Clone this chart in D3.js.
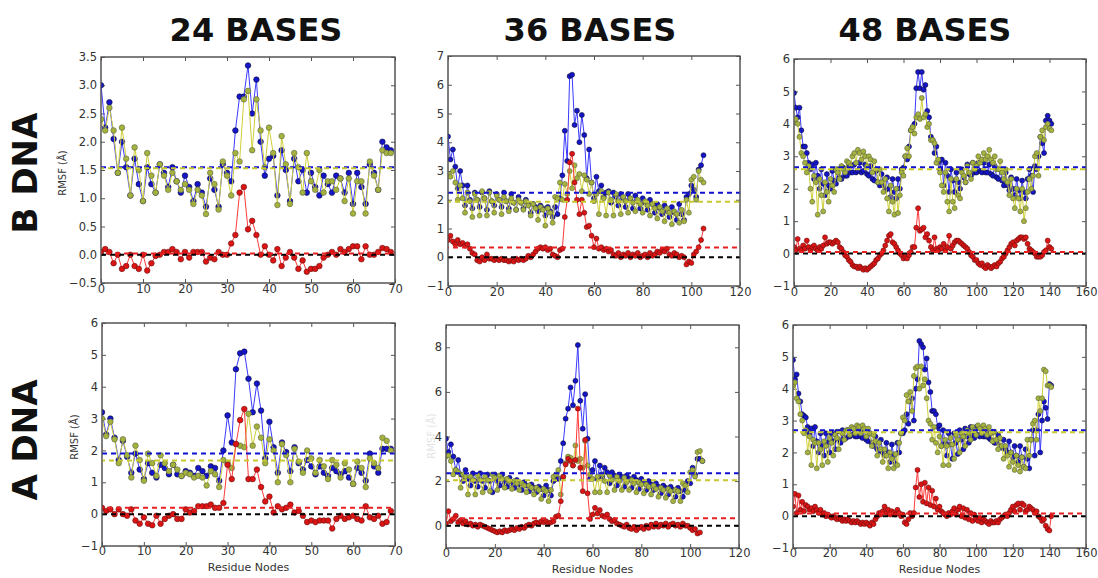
<!DOCTYPE html>
<html>
<head>
<meta charset="utf-8">
<script src="https://cdn.jsdelivr.net/npm/d3@7"></script>
<style>
  body { margin: 0; background: #fff; }
  svg { font-family: "DejaVu Sans", sans-serif; }
</style>
</head>
<body>
<div id="chart"></div>
<script>
// column / row labels
var colTitles = ["24 BASES", "36 BASES", "48 BASES"];
var rowTitles = ["B DNA", "A DNA"];

// ---- B DNA, 24 bases ----
var b24Blue = [3.0,2.25,2.7,2.05,1.45,2.0,1.55,1.05,1.7,1.25,0.95,1.55,1.25,1.1,1.6,1.45,1.2,1.55,1.3,1.1,
  1.4,1.2,0.95,1.25,1.1,0.85,1.35,1.15,0.85,1.6,1.45,1.3,2.2,2.8,2.8,3.35,2.5,3.1,2.0,1.4,
  1.7,1.75,1.05,1.85,1.5,0.95,1.7,1.3,1.5,1.1,1.45,1.2,1.05,1.4,1.25,1.1,1.4,1.35,1.1,1.45,
  0.9,1.45,1.2,0.9,1.6,1.45,1.15,2.0,1.9,1.85];
var b24Yellow = [2.4,2.2,2.6,2.2,1.45,2.25,1.7,1.05,1.9,1.5,0.95,1.8,1.4,1.1,1.6,1.4,1.15,1.45,1.3,1.15,
  1.25,1.15,0.9,1.15,1.05,0.72,1.45,1.25,0.8,1.65,1.4,1.05,1.8,1.65,2.75,2.9,1.85,2.75,2.2,1.55,
  2.25,1.8,0.88,2.1,1.6,0.9,1.8,1.55,1.1,1.8,1.3,1.15,1.5,1.1,1.3,1.3,1.15,1.35,0.95,1.35,
  0.73,1.3,1.3,0.73,1.65,1.4,1.15,1.85,1.8,1.8];
var b24Red = [0.05,0.1,0.05,-0.15,0.0,-0.25,-0.2,0.0,-0.2,-0.25,0.0,-0.28,-0.15,-0.02,0.0,0.05,0.05,0.1,0.05,-0.08,
  0.05,-0.05,0.05,0.05,0.05,-0.12,-0.05,-0.08,0.05,0.0,0.0,0.2,0.35,1.1,1.2,0.45,0.6,0.35,0.0,0.15,
  0.0,-0.1,0.1,-0.2,-0.05,0.05,-0.05,-0.25,-0.1,-0.3,-0.25,-0.25,-0.2,-0.05,0.0,0.05,0.0,0.1,0.05,0.1,
  0.15,0.15,-0.08,0.15,0.0,0.0,0.05,0.12,0.1,0.05];
var b24Means = [1.55, 1.53, 0.02];

// ---- B DNA, 36 bases ----
var b36Blue = [4.2,3.4,3.75,3.15,2.4,3.0,2.5,1.8,2.5,2.0,
  1.7,2.25,2.0,1.75,2.25,2.05,1.65,2.3,1.95,1.8,
  2.2,2.0,1.75,2.25,1.95,1.7,2.2,1.9,1.65,2.1,
  1.9,1.7,2.0,1.85,1.55,1.85,1.75,1.6,1.8,1.7,
  1.45,1.75,1.6,1.4,1.75,1.5,2.05,2.85,4.4,3.35,
  6.3,6.35,4.6,5.1,4.0,4.95,4.25,2.75,3.75,2.6,
  2.05,2.8,2.3,2.5,2.1,2.25,2.3,1.9,2.25,2.1,
  1.8,2.2,2.05,1.75,2.2,2.0,1.7,2.15,1.95,1.7,
  2.05,1.9,1.65,2.0,1.85,1.55,1.85,1.7,1.5,1.8,
  1.6,1.4,1.75,1.55,1.3,1.85,1.5,1.3,2.1,2.2,
  2.5,2.35,2.1,3.05,3.2,3.55];
var b36Yellow = [2.9,2.8,3.0,2.6,2.0,2.5,2.05,1.55,2.25,1.95,
  1.4,2.2,2.0,1.45,2.3,2.05,1.45,2.25,1.95,1.55,
  2.15,2.0,1.5,2.1,1.95,1.6,2.05,1.9,1.65,2.0,
  1.9,1.65,1.95,1.8,1.45,1.85,1.7,1.3,1.75,1.65,
  1.1,1.7,1.55,1.2,2.1,2.05,2.6,2.0,2.55,2.2,
  3.0,2.4,3.2,2.75,2.9,2.3,2.85,2.7,2.2,2.6,
  1.95,2.2,1.5,2.3,2.05,1.45,2.25,2.0,1.45,2.2,
  1.95,1.5,2.1,1.95,1.55,2.05,1.9,1.6,2.0,1.85,
  1.55,1.95,1.8,1.45,1.85,1.7,1.35,1.75,1.6,1.25,
  1.7,1.55,1.15,1.6,1.5,1.2,1.65,1.25,2.0,1.55,
  2.7,2.8,2.0,3.0,2.7,2.6];
var b36Red = [0.6,0.75,0.55,0.45,0.6,0.45,0.5,0.4,0.45,0.3,
  0.15,0.1,-0.1,-0.15,0.0,-0.1,0.1,-0.05,-0.05,-0.1,
  -0.05,-0.1,-0.05,-0.1,-0.1,-0.15,-0.1,-0.15,-0.05,-0.1,
  -0.05,-0.1,-0.05,0.05,0.0,0.1,0.2,0.3,0.35,0.3,
  0.35,0.25,0.3,0.1,0.05,0.0,0.25,0.3,1.4,2.0,
  3.3,3.6,2.6,2.0,1.5,2.0,1.55,1.05,1.1,0.75,
  0.35,0.65,0.3,0.35,0.25,0.3,0.2,0.25,0.1,0.05,
  0.15,0.0,0.1,0.05,0.15,0.0,0.1,0.05,0.15,0.0,
  0.05,0.1,0.0,0.15,0.05,0.1,0.2,0.15,0.25,0.2,
  0.3,0.1,0.05,0.15,0.1,0.0,0.05,0.0,-0.25,-0.15,
  -0.2,0.1,0.2,0.35,0.6,1.0];
var b36Means = [2.24, 1.93, 0.34];

// ---- B DNA, 48 bases ----
var b48Blue = [4.95,4.5,4.2,4.5,3.8,3.3,3.3,3.1,2.8,2.6,
  2.75,2.3,2.8,2.4,2.0,2.6,2.15,1.8,2.45,2.1,
  2.0,2.55,2.25,2.15,2.6,2.35,2.3,2.65,2.4,2.4,
  2.7,2.5,2.5,2.75,2.5,2.55,2.8,2.5,2.55,2.75,
  2.45,2.4,2.7,2.3,2.25,2.55,2.2,2.1,2.45,2.1,
  1.95,2.35,2.0,1.75,2.3,1.9,1.7,2.3,2.0,2.6,
  2.65,3.0,2.9,3.3,3.8,3.9,4.0,5.1,5.6,5.1,
  5.6,5.05,5.2,4.4,4.2,3.6,3.5,3.1,3.3,2.8,
  2.6,2.9,2.1,2.8,2.4,1.9,2.6,2.25,1.9,2.5,
  2.2,2.0,2.6,2.35,2.2,2.75,2.45,2.4,2.8,2.5,
  2.5,2.8,2.55,2.5,2.8,2.5,2.5,2.75,2.45,2.4,
  2.7,2.35,2.3,2.6,2.25,2.1,2.5,2.1,1.95,2.35,
  2.0,1.8,2.3,1.95,1.7,2.25,1.9,1.7,2.3,2.6,
  2.4,1.9,2.7,2.6,3.0,3.6,3.4,3.1,4.1,4.25,
  4.1,4.0];
var b48Yellow = [4.1,4.15,4.0,3.6,3.1,3.0,2.8,2.5,2.7,2.0,
  1.6,2.4,2.2,1.2,2.3,1.8,1.3,2.2,1.9,1.6,
  2.3,2.1,1.9,2.6,2.5,2.3,2.7,2.6,2.5,2.85,
  2.8,2.7,3.0,3.1,2.8,3.2,3.1,2.9,3.15,3.0,
  2.7,3.0,2.9,2.5,2.85,2.6,2.2,2.6,2.2,1.9,
  2.3,1.7,1.3,2.1,1.6,1.2,2.0,1.25,1.8,2.5,
  2.4,3.0,3.25,3.0,3.8,3.9,3.7,4.2,4.3,4.15,
  4.8,4.2,4.3,3.9,4.0,3.5,3.5,3.4,2.8,2.9,
  2.5,2.1,1.9,2.5,1.6,1.3,2.3,1.6,1.4,2.3,
  1.8,1.7,2.5,2.4,2.2,2.7,2.5,2.3,2.8,2.6,
  2.7,3.0,2.8,2.9,3.1,2.9,3.0,3.2,2.9,2.8,
  3.0,2.6,2.6,2.85,2.5,2.3,2.6,2.2,1.8,2.3,
  1.7,1.4,2.0,1.7,1.3,2.0,1.0,1.4,1.9,2.3,
  2.0,2.4,3.0,3.1,2.4,3.6,3.8,3.5,3.9,4.0,
  3.85,3.8];
var b48Red = [0.2,0.1,0.45,0.15,0.1,0.25,0.15,0.4,0.2,0.1,
  0.2,0.25,0.15,0.1,0.2,0.15,0.25,0.5,0.3,0.35,
  0.35,0.3,0.35,0.4,0.35,0.2,0.15,0.05,-0.05,-0.1,
  -0.2,-0.25,-0.35,-0.4,-0.4,-0.45,-0.4,-0.45,-0.5,-0.45,
  -0.5,-0.45,-0.4,-0.35,-0.3,-0.2,-0.15,-0.05,0.0,0.1,
  0.25,0.4,0.55,0.6,0.35,0.3,0.2,0.1,0.0,-0.05,
  -0.15,-0.1,-0.15,-0.05,0.05,0.2,0.2,0.8,1.4,0.7,
  0.75,0.8,0.5,0.6,0.4,0.2,0.1,0.5,0.15,0.1,
  0.2,0.15,0.3,0.1,0.2,0.55,0.15,0.25,0.35,0.4,
  0.4,0.35,0.3,0.25,0.2,0.15,0.05,-0.05,-0.1,-0.2,
  -0.2,-0.3,-0.35,-0.3,-0.4,-0.45,-0.35,-0.4,-0.45,-0.4,
  -0.35,-0.4,-0.3,-0.25,-0.15,-0.1,0.0,0.1,0.2,0.3,
  0.35,0.25,0.4,0.45,0.5,0.5,0.45,0.5,0.3,0.15,
  0.1,0.05,0.0,-0.1,-0.1,-0.1,-0.05,0.05,0.1,0.4,
  0.2,0.15];
var b48Means = [2.66, 2.6, 0.05];

// ---- A DNA, 24 bases ----
var a24Blue = [3.2,2.5,3.0,2.4,1.7,2.3,1.8,1.3,1.9,1.4,1.1,1.6,1.3,1.15,1.55,1.45,1.25,1.55,1.25,1.2,
  1.35,1.3,1.2,1.45,1.35,1.2,1.5,1.45,1.05,2.0,3.1,2.25,4.55,5.05,5.1,4.25,3.2,4.1,3.25,1.75,
  2.9,2.1,1.3,2.25,1.95,1.35,2.1,1.6,1.4,1.7,1.5,1.25,1.5,1.3,1.2,1.45,1.35,1.25,1.35,1.15,
  0.95,1.45,1.3,1.05,1.9,1.5,1.3,2.05,2.05,2.05];
var a24Yellow = [3.0,2.45,2.9,2.35,1.6,2.35,1.85,1.15,2.15,1.7,1.05,1.9,1.6,1.2,1.85,1.6,1.35,1.55,1.4,1.2,
  1.3,1.25,1.15,1.2,1.15,0.9,1.35,1.25,0.85,1.7,1.6,1.45,2.2,2.15,2.1,3.15,2.15,2.75,2.4,1.6,
  2.35,2.0,1.0,2.2,1.85,1.0,2.05,1.65,1.3,2.0,1.75,1.3,1.7,1.5,1.1,1.7,1.55,1.15,1.6,1.4,
  0.95,1.65,1.45,0.85,1.75,1.6,1.45,2.4,2.3,2.0];
var a24Red = [0.2,0.1,0.15,0.0,0.15,0.0,-0.05,0.15,-0.2,-0.3,-0.1,-0.3,-0.35,-0.05,-0.3,-0.15,-0.05,0.0,-0.15,-0.15,
  0.15,0.05,0.1,0.25,0.25,0.25,0.3,0.2,0.2,0.35,1.55,1.1,2.2,2.95,3.3,1.1,1.1,1.4,0.85,0.4,
  0.55,0.05,0.25,0.15,0.2,0.3,0.05,0.1,-0.05,-0.25,-0.2,-0.25,-0.2,-0.2,-0.2,-0.45,-0.15,-0.05,-0.15,-0.1,
  -0.05,-0.15,-0.2,0.25,-0.1,-0.15,-0.05,-0.3,-0.25,0.1];
var a24Means = [1.9, 1.68, 0.2];

// ---- A DNA, 36 bases ----
var a36Blue = [3.9,3.3,3.65,3.1,2.5,2.95,2.3,2.0,2.5,2.1,
  1.8,2.35,2.0,1.75,2.35,2.0,1.7,2.3,2.0,1.5,
  2.3,2.0,1.8,2.3,1.95,1.75,2.15,1.9,1.7,2.05,
  1.85,1.6,1.95,1.8,1.55,1.85,1.7,1.5,1.75,1.65,
  1.35,1.8,1.6,1.35,2.0,2.1,2.1,2.9,3.7,4.8,
  5.25,6.2,5.4,6.5,8.1,5.6,4.35,5.9,3.9,2.1,
  2.5,2.9,2.1,2.7,2.2,2.6,2.4,1.9,2.4,2.25,
  1.8,2.3,2.2,1.75,2.25,2.1,1.7,2.2,2.05,1.65,
  2.1,1.95,1.6,2.0,1.85,1.6,1.9,1.75,1.45,1.8,
  1.7,1.4,1.75,1.6,1.3,1.7,1.55,1.3,1.6,2.0,
  1.9,2.6,2.3,3.0,3.0,2.9];
var a36Yellow = [3.1,3.15,2.9,2.3,2.5,2.4,1.7,2.3,2.2,1.4,
  2.2,2.05,1.4,2.25,2.05,1.5,2.2,2.05,1.55,2.3,
  2.15,1.6,2.25,2.1,1.7,2.1,2.0,1.65,2.0,1.9,
  1.6,1.9,1.8,1.5,1.8,1.7,1.4,1.7,1.6,1.2,
  1.65,1.55,1.1,1.6,2.2,2.3,2.5,1.4,2.2,2.8,
  3.1,3.05,2.7,3.6,2.9,3.0,2.6,3.8,2.7,2.3,
  2.1,1.5,2.2,1.5,2.3,2.0,1.5,2.25,2.05,1.6,
  2.2,2.0,1.6,2.15,1.95,1.6,2.05,1.9,1.5,1.95,
  1.85,1.45,1.85,1.75,1.4,1.8,1.65,1.3,1.7,1.6,
  1.25,1.65,1.55,1.1,1.6,1.55,1.1,1.9,1.8,1.5,
  2.4,2.5,2.2,3.3,3.35,2.9];
var a36Red = [0.1,0.65,0.2,0.3,0.45,0.15,0.25,0.1,0.2,0.05,
  0.1,0.0,0.05,-0.05,0.05,0.0,-0.05,-0.1,-0.15,-0.2,
  -0.25,-0.3,-0.25,-0.3,-0.2,-0.25,-0.2,-0.15,-0.2,-0.1,
  -0.15,-0.05,-0.1,0.0,0.05,0.0,0.1,0.15,0.1,0.2,
  0.15,0.2,0.1,0.15,0.2,0.4,0.45,1.1,2.2,2.75,
  3.0,2.9,2.7,2.95,5.25,2.6,1.55,3.85,1.45,0.3,
  0.5,0.8,0.55,0.7,0.45,0.4,0.5,0.3,0.2,0.25,
  0.1,0.05,0.0,-0.05,0.05,-0.1,-0.15,-0.05,-0.2,-0.1,
  -0.05,-0.15,0.0,-0.1,0.05,-0.05,0.1,-0.05,0.05,0.0,
  0.1,-0.05,0.05,0.1,0.0,0.05,-0.05,0.1,0.0,0.0,
  -0.1,-0.2,-0.15,-0.35,-0.3];
var a36Means = [2.35, 2.04, 0.33];

// ---- A DNA, 48 bases ----
var a48Blue = [4.9,4.3,4.45,3.85,3.6,3.2,3.15,3.1,2.8,2.6,
  2.75,2.2,2.8,2.35,2.0,2.6,2.2,1.9,2.6,2.3,
  2.0,2.6,2.35,2.1,2.65,2.4,2.3,2.7,2.45,2.45,
  2.7,2.5,2.55,2.75,2.5,2.5,2.75,2.5,2.45,2.7,
  2.4,2.35,2.6,2.3,2.2,2.5,2.1,2.05,2.4,2.0,
  1.9,2.3,2.0,1.7,2.25,1.9,1.65,2.3,2.0,2.6,
  2.6,2.7,3.2,2.9,3.6,3.7,3.0,4.0,4.3,5.5,
  5.4,5.3,4.6,4.95,4.2,3.9,3.3,3.3,3.2,2.8,
  2.85,2.2,2.7,2.3,1.9,2.6,2.25,1.8,2.6,2.3,
  1.95,2.7,2.4,2.1,2.75,2.5,2.3,2.8,2.55,2.45,
  2.8,2.55,2.5,2.75,2.5,2.5,2.7,2.45,2.4,2.65,
  2.3,2.3,2.55,2.2,2.15,2.4,2.1,2.0,2.35,2.0,
  1.85,2.2,1.9,1.7,2.2,1.85,1.55,2.1,1.8,1.5,
  2.4,2.7,1.9,2.7,3.2,2.0,3.0,3.6,3.4,3.05,
  4.15,4.1];
var a48Yellow = [4.1,4.2,3.7,3.6,3.2,3.0,2.6,2.7,2.0,2.5,
  1.6,2.4,2.3,1.5,2.3,2.1,1.6,2.35,2.2,1.7,
  2.45,2.3,1.9,2.55,2.45,2.1,2.65,2.6,2.4,2.7,
  2.7,2.55,2.8,2.75,2.6,2.85,2.8,2.6,2.85,2.75,
  2.5,2.75,2.6,2.2,2.55,2.35,1.9,2.3,2.1,1.7,
  2.1,1.9,1.5,2.0,1.8,1.5,1.95,1.6,2.3,2.6,
  3.1,3.0,3.8,3.6,3.9,3.3,4.4,4.65,4.7,4.0,
  4.7,4.1,4.3,3.7,3.0,2.9,2.4,2.8,2.3,2.0,
  2.5,2.2,1.6,2.4,2.2,1.6,2.45,2.25,1.8,2.55,
  2.4,2.0,2.6,2.5,2.2,2.7,2.6,2.4,2.8,2.7,
  2.55,2.85,2.75,2.6,2.85,2.75,2.55,2.8,2.6,2.35,
  2.65,2.4,2.1,2.45,2.2,1.8,2.2,1.9,1.55,2.0,
  1.7,1.45,1.9,1.6,1.4,1.85,1.55,1.5,2.4,1.9,
  2.4,2.9,3.0,2.4,3.7,3.3,3.7,4.6,4.55,4.1,
  4.1,4.05];
var a48Red = [0.3,0.7,0.1,0.65,0.2,0.45,0.15,0.35,0.3,0.2,
  0.25,0.15,0.3,0.2,0.1,0.2,0.05,0.1,0.0,0.05,
  0.0,-0.05,0.0,-0.05,-0.1,-0.05,-0.1,-0.15,-0.1,-0.15,
  -0.1,-0.15,-0.2,-0.15,-0.2,-0.15,-0.2,-0.25,-0.2,-0.25,
  -0.2,-0.25,-0.3,-0.2,-0.25,-0.1,0.0,0.1,0.05,0.15,
  0.3,0.1,0.2,0.05,0.15,0.1,0.05,0.2,0.1,0.0,
  0.05,-0.2,-0.25,-0.1,0.1,0.0,0.1,0.9,1.45,0.6,
  1.0,0.45,1.05,0.4,0.9,0.35,0.8,0.3,0.55,0.2,
  0.3,0.15,0.1,0.05,0.0,0.1,0.05,0.15,0.25,0.05,
  0.2,0.3,0.0,0.25,-0.05,0.2,-0.1,0.1,-0.15,0.05,
  -0.1,-0.15,-0.05,-0.2,-0.1,-0.15,-0.2,-0.25,-0.15,-0.2,
  -0.2,-0.15,-0.2,-0.1,-0.05,0.0,0.05,0.0,0.1,0.2,
  0.3,0.15,0.35,0.4,0.2,0.4,0.35,0.15,0.2,0.3,
  0.25,0.2,0.1,0.15,0.0,-0.05,-0.15,-0.1,-0.3,-0.4,
  -0.45,0.0];
var a48Means = [2.7, 2.63, 0.08];

// axis ranges and tick values
var xMaxes = [70, 120, 160];
var xTickSteps = [10, 20, 20];
var yDomains = [[-0.5, 3.5], [-1, 7], [-1, 6], [-1, 6], [-1, 9], [-1, 6]];
var yTickLists = [
  [-0.5, 0, 0.5, 1, 1.5, 2, 2.5, 3, 3.5],
  [-1, 0, 1, 2, 3, 4, 5, 6, 7],
  [-1, 0, 1, 2, 3, 4, 5, 6],
  [-1, 0, 1, 2, 3, 4, 5, 6],
  [0, 2, 4, 6, 8],
  [-1, 0, 1, 2, 3, 4, 5, 6]
];

var panelData = [
  [b24Blue, b24Yellow, b24Red, b24Means],
  [b36Blue, b36Yellow, b36Red, b36Means],
  [b48Blue, b48Yellow, b48Red, b48Means],
  [a24Blue, a24Yellow, a24Red, a24Means],
  [a36Blue, a36Yellow, a36Red, a36Means],
  [a48Blue, a48Yellow, a48Red, a48Means]
];

// pixel boxes [left, top, width, height]
var boxes = [
  [101, 57, 294, 226], [448, 56, 292, 230], [794, 59, 292, 227],
  [102, 323, 293, 223], [446, 325, 293, 223], [793, 325, 293, 223]
];

var W = 1098, H = 578;
var svg = d3.select("#chart").append("svg")
  .attr("width", W).attr("height", H);

// series styles: line colour, marker fill, marker edge
var styles = [
  { line: "#3a3aff", fill: "#1414c8", edge: "#10103a" },
  { line: "#cfcf3a", fill: "#a6b23e", edge: "#5d6640" },
  { line: "#ff3a3a", fill: "#dc1414", edge: "#6a1010" }
];
var meanColors = ["#1010d0", "#c8c830", "#e82020"];

panelData.forEach(function (pd, i) {
  var col = i % 3;
  var b = boxes[i];
  var g = svg.append("g").attr("transform", "translate(" + b[0] + "," + b[1] + ")");
  var w = b[2], h = b[3];

  var x = d3.scaleLinear().domain([0, xMaxes[col]]).range([0, w]);
  var y = d3.scaleLinear().domain(yDomains[i]).range([h, 0]);
  var xt = d3.range(0, xMaxes[col] + 1, xTickSteps[col]);
  var yFmt = i === 0 ? d3.format(".1f") : d3.format("d");

  g.append("clipPath").attr("id", "clip" + i)
    .append("rect").attr("width", w).attr("height", h);

  // frame
  g.append("rect").attr("width", w).attr("height", h)
    .attr("fill", "#fff").attr("stroke", "#555").attr("stroke-width", 1);

  // ticks inward on all four sides
  var xb = g.append("g").attr("transform", "translate(0," + h + ")")
    .call(d3.axisBottom(x).tickValues(xt).tickSize(-4).tickPadding(i >= 3 ? 1 : 2).tickFormat(d3.format("d")));
  var xtop = g.append("g")
    .call(d3.axisTop(x).tickValues(xt).tickSize(-4).tickFormat(""));
  var yl = g.append("g")
    .call(d3.axisLeft(y).tickValues(yTickLists[i]).tickSize(-4).tickPadding(4).tickFormat(yFmt));
  var yr = g.append("g").attr("transform", "translate(" + w + ",0)")
    .call(d3.axisRight(y).tickValues(yTickLists[i]).tickSize(-4).tickFormat(""));
  [xb, xtop, yl, yr].forEach(function (a) {
    a.select(".domain").remove();
    a.selectAll(".tick line").attr("stroke", "#555");
    a.selectAll("text").attr("fill", "#333").style("font-size", "11.5px")
      .style("font-family", "DejaVu Sans, sans-serif");
  });

  var plot = g.append("g").attr("clip-path", "url(#clip" + i + ")");
  var r = col === 0 ? 2.8 : 2.5;

  [0, 1, 2].forEach(function (s) {
    var vals = pd[s];
    var line = d3.line()
      .x(function (d, k) { return x(k); })
      .y(function (d) { return y(d); });
    plot.append("path").datum(vals)
      .attr("d", line)
      .attr("fill", "none")
      .attr("stroke", styles[s].line)
      .attr("stroke-width", 1);
    plot.selectAll(".pt" + s).data(vals).enter().append("circle")
      .attr("cx", function (d, k) { return x(k); })
      .attr("cy", function (d) { return y(d); })
      .attr("r", r)
      .attr("fill", styles[s].fill)
      .attr("stroke", styles[s].edge)
      .attr("stroke-width", 0.6);
  });

  // zero line and mean lines, dashed
  plot.append("line")
    .attr("x1", 0).attr("x2", w).attr("y1", y(0)).attr("y2", y(0))
    .attr("stroke", "#000").attr("stroke-width", 2).attr("stroke-dasharray", "5,4");
  pd[3].forEach(function (m, s) {
    plot.append("line")
      .attr("x1", 0).attr("x2", w).attr("y1", y(m)).attr("y2", y(m))
      .attr("stroke", meanColors[s]).attr("stroke-width", 2)
      .attr("stroke-dasharray", "5,4").attr("stroke-dashoffset", s * 2);
  });

  // redraw frame edge on top
  g.append("rect").attr("width", w).attr("height", h)
    .attr("fill", "none").attr("stroke", "#555").attr("stroke-width", 1);

  if (i >= 3) {
    g.append("text")
      .attr("x", w / 2).attr("y", h + 25)
      .attr("text-anchor", "middle")
      .style("font-size", "11px").attr("fill", "#333")
      .text("Residue Nodes");
  }
});

// y labels
svg.append("text")
  .attr("transform", "translate(66,173) rotate(-90)")
  .attr("text-anchor", "middle")
  .style("font-size", "10px").attr("fill", "#333")
  .text("RMSF (Å)");
svg.append("text")
  .attr("transform", "translate(78,437) rotate(-90)")
  .attr("text-anchor", "middle")
  .style("font-size", "10px").attr("fill", "#333")
  .text("RMSF (Å)");
svg.append("text")
  .attr("transform", "translate(435,436) rotate(-90)")
  .attr("text-anchor", "middle")
  .style("font-size", "10px").attr("fill", "#e4e4e4")
  .text("RMSF (Å)");

// column titles
var colX = [256, 590, 925];
colTitles.forEach(function (t, k) {
  svg.append("text")
    .attr("x", colX[k]).attr("y", 41)
    .attr("text-anchor", "middle")
    .style("font-size", "32px").style("font-weight", "bold")
    .attr("fill", "#111")
    .text(t);
});

// row titles
var rowY = [173, 440];
rowTitles.forEach(function (t, k) {
  svg.append("text")
    .attr("transform", "translate(37," + rowY[k] + ") rotate(-90)")
    .attr("text-anchor", "middle")
    .style("font-size", "34px").style("font-weight", "bold")
    .attr("fill", "#111")
    .text(t);
});
</script>
</body>
</html>
